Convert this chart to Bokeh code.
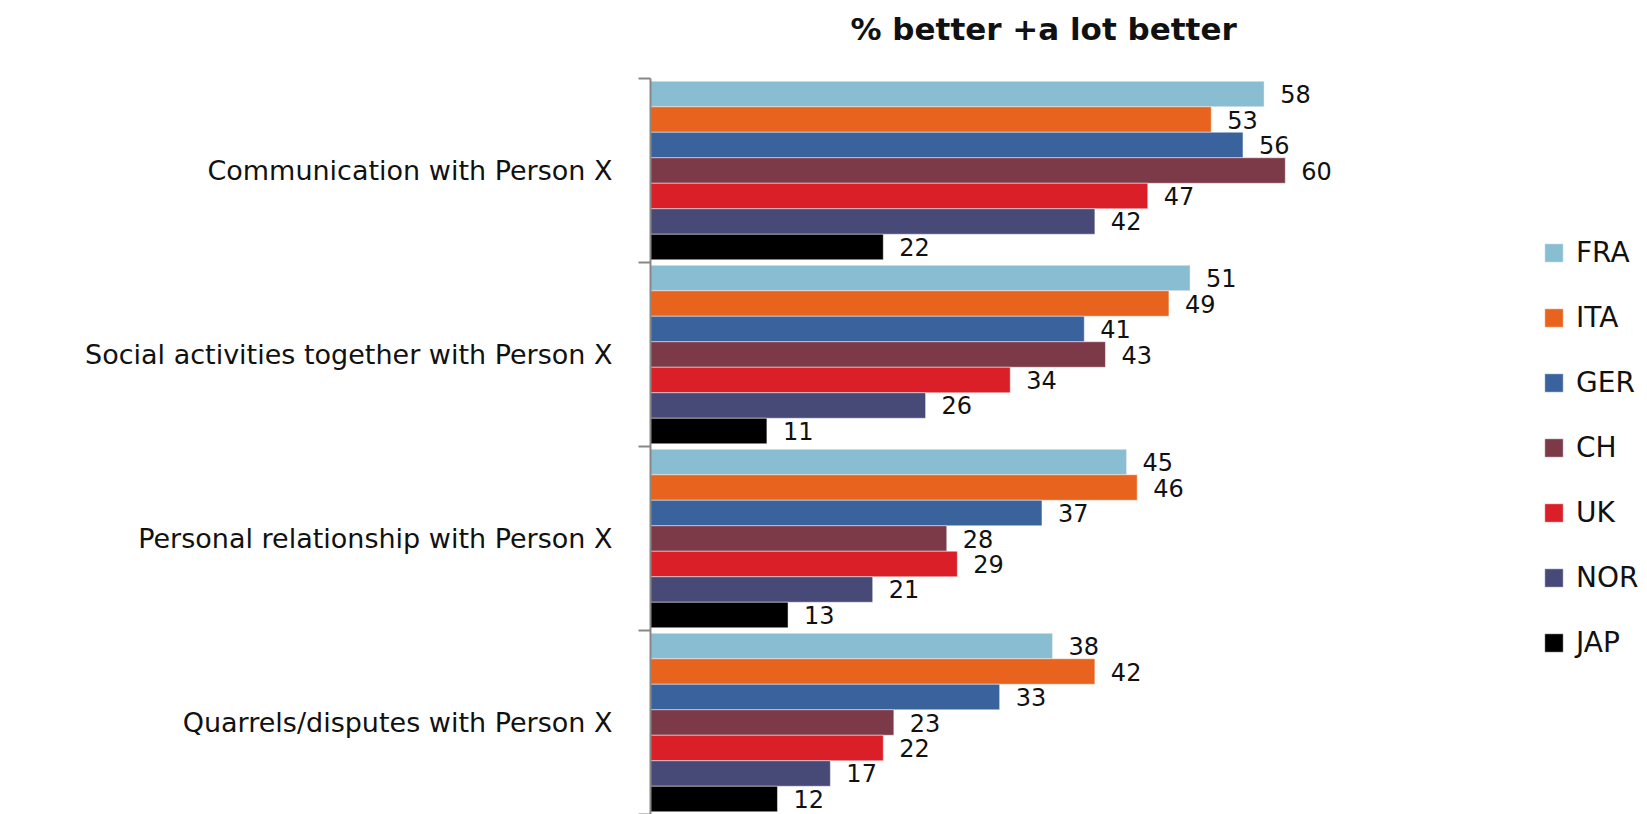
from bokeh.plotting import figure
from bokeh.models import (ColumnDataSource, Range1d, FixedTicker, Legend, LegendItem, Title)
from bokeh.transform import dodge
from bokeh.core.properties import value
from bokeh.embed import file_html
from bokeh.resources import INLINE

# ---------------- data ----------------
categories = [
    "Communication with Person X",
    "Social activities together with Person X",
    "Personal relationship with Person X",
    "Quarrels/disputes with Person X",
]
countries = ["FRA", "ITA", "GER", "CH", "UK", "NOR", "JAP"]
FRA = [58, 51, 45, 38]
ITA = [53, 49, 46, 42]
GER = [56, 41, 37, 33]
CH = [60, 43, 28, 23]
UK = [47, 34, 29, 22]
NOR = [42, 26, 21, 17]
JAP = [22, 11, 13, 12]
title_text = "% better +a lot better"

series = dict(FRA=FRA, ITA=ITA, GER=GER, CH=CH, UK=UK, NOR=NOR, JAP=JAP)
colors = ["#89BDD1", "#E8641E", "#3A639D", "#7C3A49", "#DA1F29", "#474A77", "#000000"]

# ---------------- layout constants ----------------
W, H = 1647, 814
BORDER_LEFT = 650
BORDER_TOP = 78
PX_PER_UNIT = 10.58
frame_w = W - BORDER_LEFT
frame_h = H - BORDER_TOP

n = len(categories)
pos = [n - i - 0.5 for i in range(n)]  # group centres, top first
bar_h = 0.97 / len(countries)

data = dict(pos=pos)
for c in countries:
    data[c] = series[c]
    data[c + "_lbl"] = [str(v) for v in series[c]]
source = ColumnDataSource(data)

p = figure(width=W, height=H, output_backend="svg", toolbar_location=None,
           title=None,
           x_range=Range1d(0, frame_w / PX_PER_UNIT),
           y_range=Range1d(0.0, float(n)),
           min_border_left=BORDER_LEFT, min_border_top=BORDER_TOP,
           min_border_right=0, min_border_bottom=0,
           x_axis_location=None)
p.outline_line_color = None
p.grid.visible = False
p.background_fill_color = "white"
p.border_fill_color = "white"

items = []
for i, c in enumerate(countries):
    off = (3 - i) * bar_h
    r = p.hbar(y=dodge("pos", off), left=0, right=c, height=bar_h, source=source,
               fill_color=colors[i], line_color="white", line_alpha=0.45, line_width=1)
    p.text(x=c, y=dodge("pos", off), text=c + "_lbl", source=source,
           x_offset=16, text_baseline="middle", text_align="left",
           text_font=value("DejaVu Sans"), text_font_size=value("24px"),
           text_color="#111111")
    items.append(LegendItem(label=c, renderers=[r]))

# ---------------- axis ----------------
ax = p.yaxis[0]
ax.ticker = FixedTicker(ticks=pos, minor_ticks=list(range(n + 1)))
ax.major_label_overrides = {pv: cat for pv, cat in zip(pos, categories)}
ax.major_tick_line_color = None
ax.major_tick_out = 0
ax.major_tick_in = 0
ax.minor_tick_out = 12
ax.minor_tick_in = 0
ax.minor_tick_line_color = "#878787"
ax.minor_tick_line_width = 2
ax.axis_line_color = "#878787"
ax.axis_line_width = 2
ax.major_label_standoff = 26
ax.major_label_text_font = "DejaVu Sans"
ax.major_label_text_font_size = "27px"
ax.major_label_text_color = "#111111"

# ---------------- legend ----------------
legend = Legend(items=items, location=(892, 155), orientation="vertical",
                glyph_width=23, glyph_height=23, label_height=23, spacing=32,
                padding=0, margin=0, label_standoff=11,
                label_text_font="DejaVu Sans", label_text_font_size="28px",
                label_text_color="#111111", label_text_baseline="middle",
                border_line_color=None, background_fill_alpha=0)
p.add_layout(legend)

# ---------------- title (an empty second line lifts it above the bars) ----------------
p.add_layout(Title(text=title_text + "\n ", align="left", offset=200, standoff=2,
                   text_line_height=0.85,
                   text_font="DejaVu Sans", text_font_size="31px",
                   text_font_style="bold", text_color="#111111"), "above")

open("out.html", "w").write(file_html(p, INLINE))
